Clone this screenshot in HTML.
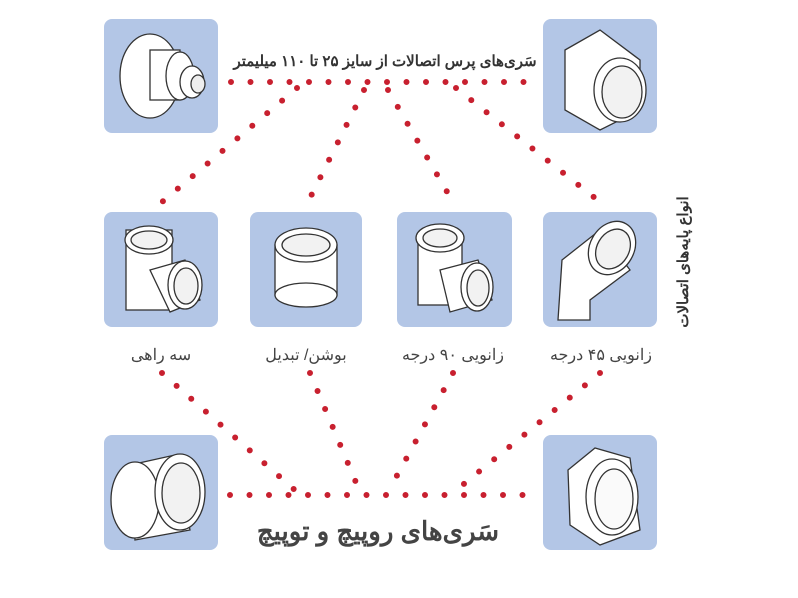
<!DOCTYPE html>
<html><head><meta charset="utf-8"><style>
body{margin:0;background:#fff;}
svg{display:block;}
text{font-family:"Liberation Sans","Noto Sans CJK SC",sans-serif;}
</style></head><body>
<svg width="798" height="598" viewBox="0 0 798 598" xmlns="http://www.w3.org/2000/svg">
<g fill="#b3c6e6">
<rect x="104" y="19" width="114" height="114" rx="8"/>
<rect x="543" y="19" width="114" height="114" rx="8"/>
<rect x="104" y="212" width="114" height="115" rx="8"/>
<rect x="250" y="212" width="112" height="115" rx="8"/>
<rect x="397" y="212" width="115" height="115" rx="8"/>
<rect x="543" y="212" width="114" height="115" rx="8"/>
<rect x="104" y="435" width="114" height="115" rx="8"/>
<rect x="543" y="435" width="114" height="115" rx="8"/>
</g>
<g stroke="#333" stroke-width="1.3" fill="#fff">
<ellipse cx="150" cy="76" rx="30" ry="42"/>
<rect x="150" y="50" width="30" height="50" fill="#fff"/>
<ellipse cx="180" cy="76" rx="14" ry="24"/>
<ellipse cx="192" cy="82" rx="12" ry="16"/>
<ellipse cx="198" cy="84" rx="7" ry="9" fill="#eee"/>
<path d="M565 50 L600 30 L640 60 L640 110 L600 130 L565 110 Z"/>
<ellipse cx="620" cy="90" rx="26" ry="32"/>
<ellipse cx="622" cy="92" rx="20" ry="26" fill="#f2f2f2"/>
<rect x="126" y="230" width="46" height="80"/>
<ellipse cx="149" cy="240" rx="24" ry="14"/>
<ellipse cx="149" cy="240" rx="18" ry="9" fill="#f2f2f2"/>
<path d="M150 270 L185 260 L200 300 L170 312 Z"/>
<ellipse cx="185" cy="285" rx="17" ry="24"/>
<ellipse cx="186" cy="286" rx="12" ry="18" fill="#f2f2f2"/>
<rect x="275" y="245" width="62" height="50"/>
<ellipse cx="306" cy="245" rx="31" ry="17"/>
<ellipse cx="306" cy="245" rx="24" ry="11" fill="#f2f2f2"/>
<ellipse cx="306" cy="295" rx="31" ry="12"/>
<rect x="418" y="235" width="44" height="70"/>
<ellipse cx="440" cy="238" rx="24" ry="14"/>
<ellipse cx="440" cy="238" rx="17" ry="9" fill="#f2f2f2"/>
<path d="M440 270 L478 260 L492 300 L450 312 Z"/>
<ellipse cx="477" cy="287" rx="16" ry="24"/>
<ellipse cx="478" cy="288" rx="11" ry="18" fill="#f2f2f2"/>
<path d="M562 260 L600 230 L630 270 L590 300 L590 320 L558 320 Z"/>
<ellipse cx="612" cy="248" rx="22" ry="28" transform="rotate(30 612 248)"/>
<ellipse cx="613" cy="249" rx="16" ry="21" fill="#f2f2f2" transform="rotate(30 613 249)"/>
<path d="M130 465 L175 455 L190 530 L135 540 Z"/>
<ellipse cx="135" cy="500" rx="24" ry="38"/>
<ellipse cx="180" cy="492" rx="25" ry="38"/>
<ellipse cx="181" cy="493" rx="19" ry="30" fill="#f2f2f2"/>
<path d="M568 470 L595 448 L630 458 L640 530 L600 545 L570 525 Z"/>
<ellipse cx="612" cy="497" rx="26" ry="38"/>
<ellipse cx="614" cy="499" rx="19" ry="30" fill="#fafafa"/>
</g>
<g stroke="#c8202f" stroke-width="6" stroke-linecap="round" stroke-dasharray="0 19.5" fill="none">
<line x1="231" y1="82" x2="540" y2="82"/>
<line x1="297" y1="88" x2="162" y2="202"/>
<line x1="364" y1="90" x2="308" y2="202"/>
<line x1="388" y1="90" x2="453" y2="202"/>
<line x1="456" y1="88" x2="600" y2="202"/>
<line x1="230" y1="495" x2="527" y2="495"/>
<line x1="162" y1="373" x2="297" y2="492"/>
<line x1="310" y1="373" x2="360" y2="492"/>
<line x1="453" y1="373" x2="388" y2="492"/>
<line x1="600" y1="373" x2="454" y2="492"/>
</g>
<g fill="#333" font-weight="bold" direction="rtl">
<text x="385" y="66" font-size="15" text-anchor="middle">سَری‌های پرس اتصالات از سایز ۲۵ تا ۱۱۰ میلیمتر</text>
<text x="378" y="540" font-size="26" text-anchor="middle" fill="#444">سَری‌های روپیچ و توپیچ</text>
<text transform="translate(688 262) rotate(-90)" font-size="15" text-anchor="middle">انواع پایه‌های اتصالات</text>
</g>
<g fill="#444" font-size="16" text-anchor="middle" direction="rtl">
<text x="161" y="360">سه راهی</text>
<text x="306" y="360">بوشن/ تبدیل</text>
<text x="453" y="360">زانویی ۹۰ درجه</text>
<text x="601" y="360">زانویی ۴۵ درجه</text>
</g>
</svg>
</body></html>
